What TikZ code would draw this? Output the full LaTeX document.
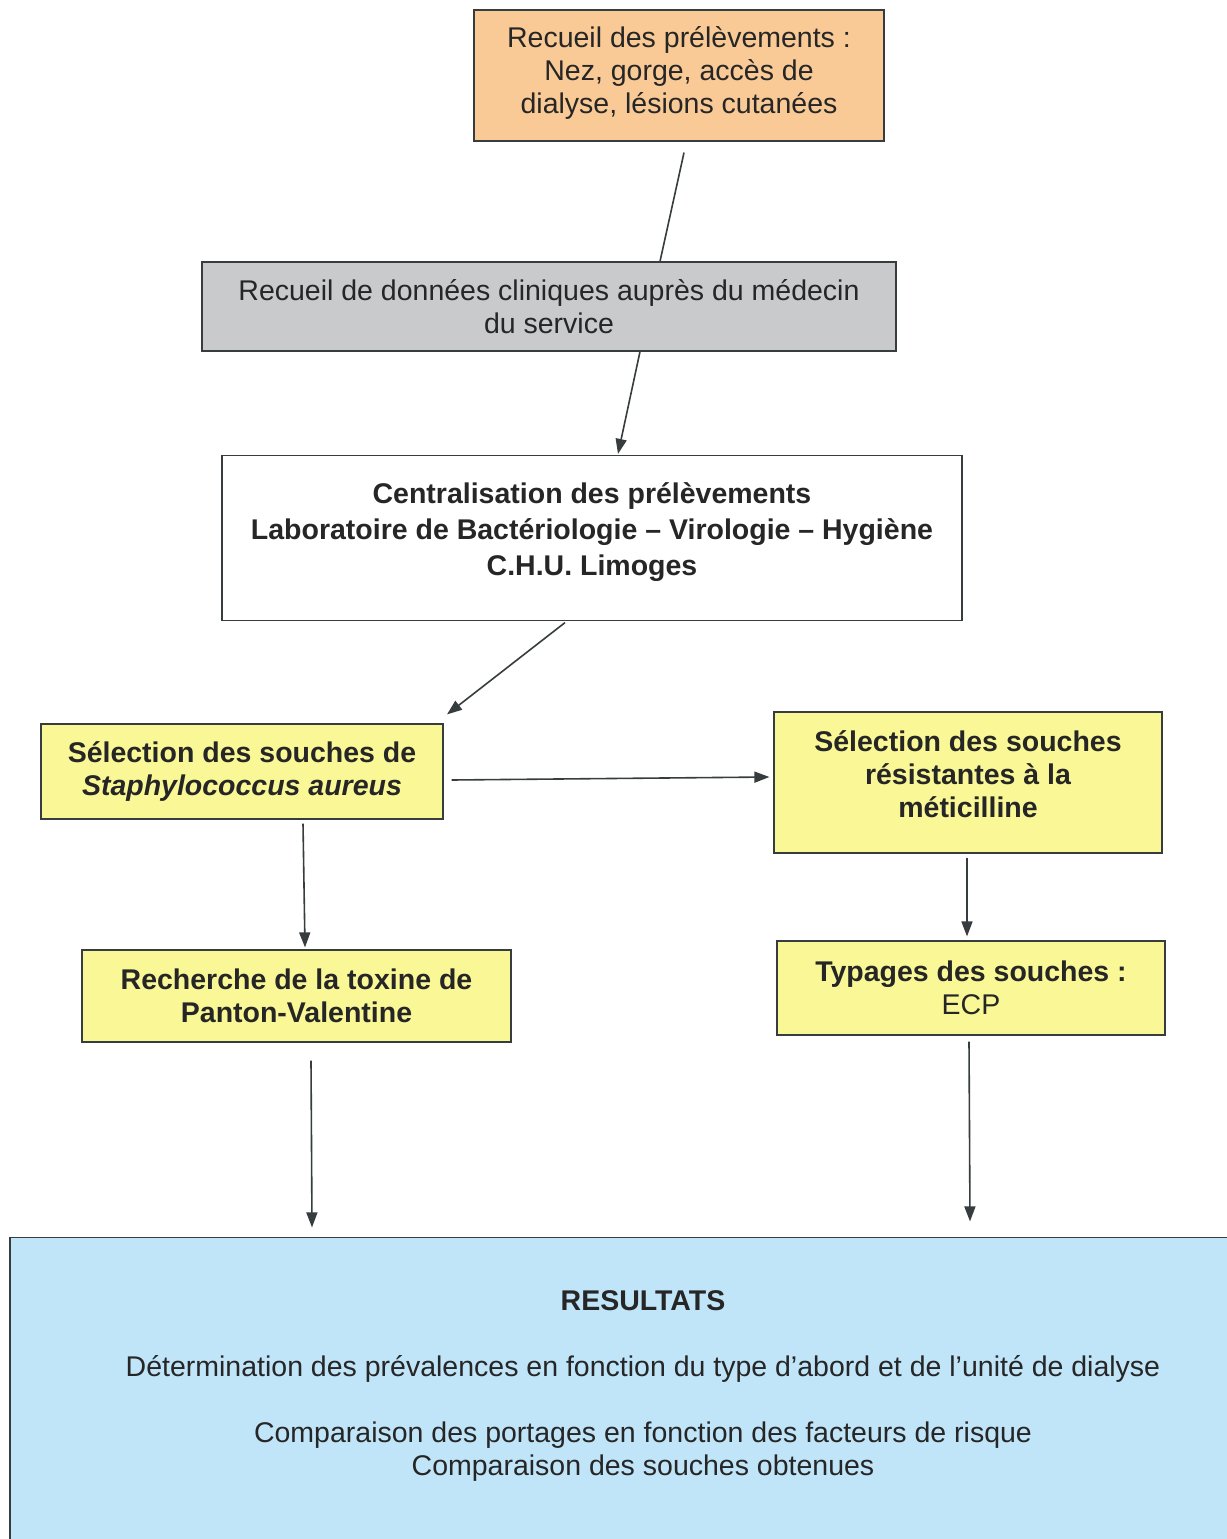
\documentclass[tikz,border=0pt]{standalone}
\usepackage{fontspec}
\setmainfont{Liberation Sans}
\usetikzlibrary{arrows.meta}
\definecolor{orangebox}{RGB}{250,202,150}
\definecolor{greybox}{RGB}{200,202,204}
\definecolor{yellowbox}{RGB}{250,248,150}
\definecolor{bluebox}{RGB}{192,228,248}
\definecolor{edge}{RGB}{55,60,62}
\begin{document}
\begin{tikzpicture}[x=1pt,y=-1pt,
  box/.style={draw=edge,line width=1.2pt,rectangle,align=center,inner sep=0pt,
    font=\fontsize{28.5}{33}\selectfont,text=black!85},
  bbox/.style={box,font=\fontsize{28.5}{33}\selectfont\bfseries},
  txt/.style={align=center,inner sep=0pt,font=\fontsize{28.5}{33}\selectfont,text=black!85},
  arr/.style={line width=1.6pt,-{Triangle[length=15pt,width=11pt]},color=edge},
  ln/.style={line width=1.6pt,color=edge}]
\useasboundingbox (0,0) rectangle (1226,1539);
\fill[white] (0,0) rectangle (1226,1539);

\node[box,fill=orangebox,minimum width=410pt,minimum height=131pt] (o) at (679,75.5) {};
\node[txt] (ot) at (679,72.5)
  {Recueil des prélèvements :\\Nez, gorge, accès de\\dialyse, lésions cutanées};
\node[box,fill=greybox,minimum width=694pt,minimum height=89pt] (g) at (549,306.5)
  {Recueil de données cliniques auprès du médecin\\du service};
\node[box,fill=white,minimum width=740pt,minimum height=165pt] (w) at (592,538) {};
\node[txt,font=\fontsize{28.5}{36}\selectfont\bfseries] (wt) at (592,532)
  {Centralisation des prélèvements\\Laboratoire de Bactériologie -- Virologie -- Hygiène\\C.H.U. Limoges};
\node[bbox,fill=yellowbox,minimum width=402pt,minimum height=95pt] (yl) at (242,771.5)
  {Sélection des souches de\\\textit{Staphylococcus aureus}};
\node[box,fill=yellowbox,minimum width=388pt,minimum height=141pt] (yr) at (968,782.5) {};
\node[txt,font=\fontsize{28.5}{33}\selectfont\bfseries] (yrt) at (968,774.5)
  {Sélection des souches\\résistantes à la\\méticilline};
\node[bbox,fill=yellowbox,minimum width=429pt,minimum height=92pt] (yl2) at (296.5,996)
  {Recherche de la toxine de\\Panton-Valentine};
\node[box,fill=yellowbox,minimum width=388pt,minimum height=94pt] (yr2) at (971,988)
  {\textbf{Typages des souches :}\\ECP};
\node[box,fill=bluebox,minimum width=1266pt,minimum height=302pt] (b) at (643,1388.5) {};
\node[txt] (bt) at (643,1385.5)
  {\textbf{RESULTATS}\\[33pt]Détermination des prévalences en fonction du type d’abord et de l’unité de dialyse\\[33pt]Comparaison des portages en fonction des facteurs de risque\\Comparaison des souches obtenues};

\draw[ln] ([xshift=5pt,yshift=-11pt]o.south) -- ([xshift=111pt]g.north);
\draw[arr] ([xshift=91pt]g.south) -- ([xshift=26pt,yshift=1pt]w.north);
\draw[arr] ([xshift=-27pt,yshift=-1.5pt]w.south) -- ([xshift=205pt,yshift=9pt]yl.north);
\draw[arr] ([xshift=8pt,yshift=-8.5pt]yl.east) -- ([xshift=-4pt,yshift=5.5pt]yr.west);
\draw[arr] ([xshift=61pt,yshift=-4pt]yl.south) -- ([xshift=8.5pt,yshift=2pt]yl2.north);
\draw[arr] ([xshift=-1pt,yshift=-4pt]yr.south) -- ([xshift=-4pt,yshift=4pt]yr2.north);
\draw[arr] ([xshift=14.5pt,yshift=-18pt]yl2.south) -- ([xshift=-331pt,yshift=9.5pt]b.north);
\draw[arr] ([xshift=-2pt,yshift=-6pt]yr2.south) -- ([xshift=327pt,yshift=15.5pt]b.north);
\end{tikzpicture}
\end{document}
